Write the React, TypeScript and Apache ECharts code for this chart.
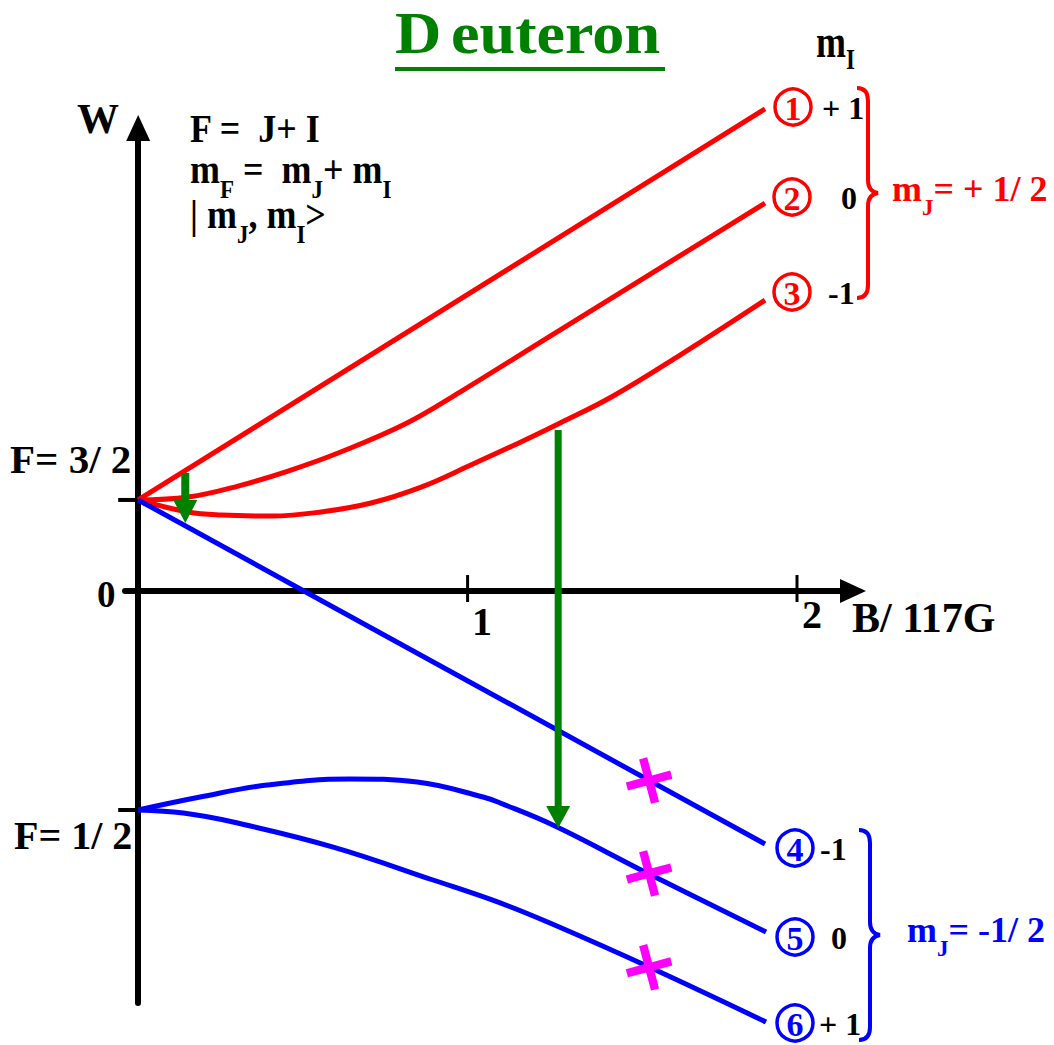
import React, { useEffect, useRef } from 'react';
import * as echarts from 'echarts';

const SERIF = "'Liberation Serif', 'Times New Roman', Times, serif";
const RED = '#ff0000';
const BLUE = '#0000ff';
const GREEN = '#008000';
const MAGENTA = '#ff00ff';
const BLACK = '#000000';

// Zeeman levels of the deuteron ground state.
// B in units of 117 G, W in arbitrary energy units.
const b1 = [0, 1.903];
const w1 = [0.99, 5.24];
const b2 = [0, 0.152, 0.303, 0.455, 0.607, 0.81, 0.977, 1.241, 1.545, 1.903];
const w2 = [0.99, 1.022, 1.141, 1.304, 1.5, 1.815, 2.163, 2.75, 3.424, 4.217];
const b3 = [0, 0.152, 0.252, 0.404, 0.555, 0.707, 0.859, 1.01, 1.162, 1.281, 1.442, 1.645, 1.903];
const w3 = [0.99, 0.859, 0.826, 0.815, 0.859, 0.957, 1.13, 1.37, 1.62, 1.826, 2.12, 2.565, 3.163];
const b4 = [0, 1.903];
const w4 = [0.99, -2.75];
const b5 = [0, 0.188, 0.392, 0.643, 0.847, 1.047, 1.099, 1.259, 1.545, 1.906];
const w5 = [-2.38, -2.239, -2.109, -2.043, -2.076, -2.239, -2.304, -2.543, -3.065, -3.707];
const b6 = [0, 0.137, 0.288, 0.592, 0.895, 1.099, 1.25, 1.551, 1.906];
const w6 = [-2.38, -2.413, -2.511, -2.783, -3.141, -3.39, -3.609, -4.087, -4.685];

const levelB = [b1, b2, b3, b4, b5, b6];
const levelW = [w1, w2, w3, w4, w5, w6];

// axis tick marks: B = 1, 2 and the zero-field levels F = 3/2, F = 1/2
const bTicks = [1, 2];
const wTicks = [0.99, -2.38];

// allowed transitions (green arrows): field, upper level, lower level
const transB = [0.143, 1.275];
const transFrom = [1.283, 1.75];
const transTo = [0.739, -2.576];

// forbidden transitions, crossed out
const crossB = [1.551, 1.551, 1.551];
const crossW = [-2.06, -3.07, -4.09];

// state numbers and their m_I values
const stateNumbers = ['1', '2', '3', '4', '5', '6'];
const mIValues = ['+ 1', '0', '-1', '-1', '0', '+ 1'];

// layout of the right-hand annotations
const circleX = [793, 792, 792, 795, 795, 795];
const circleY = [107, 197, 292, 848, 937, 1023];
const mIX = [822, 841, 828, 820, 831, 819];

const ARROW_SIZES = [
  { shaft: 8, head: 24, len: 23 },
  { shaft: 7, head: 24, len: 22 },
];

const BRACE_D =
  'M0,0 C7,0 11,4 11,13 L11,92 C11,100 14,104 21,105 C14,106 11,110 11,118 L11,197 C11,206 7,210 0,210';
echarts.graphic.registerShape('brace', echarts.graphic.extendPath(BRACE_D, {}));

const CROSS_PATH =
  'path://M-4,-22L4,-22L4,-4L22,-4L22,4L4,4L4,22L-4,22L-4,4L-22,4L-22,-4L-4,-4Z';

function richStyles(size: number, subSize: number, subPad: number, color: string) {
  const base = { fontSize: size, fontWeight: 'bold', fontFamily: SERIF, fill: color };
  return { b: base, s: { ...base, fontSize: subSize, padding: [subPad, 0, 0, 0] } };
}

function label(
  x: number,
  y: number,
  text: string,
  size: number,
  color: string,
  extra: { align?: string; scaleX?: number; scaleY?: number; rich?: any } = {}
) {
  const { align = 'left', scaleX = 1, scaleY = 1, rich } = extra;
  return {
    type: 'text',
    x,
    y,
    scaleX,
    scaleY,
    z: 50,
    silent: true,
    style: {
      text,
      x: 0,
      y: 0,
      fill: color,
      fontSize: size,
      fontWeight: 'bold',
      fontFamily: SERIF,
      align,
      verticalAlign: 'middle',
      textAlign: align,
      textVerticalAlign: 'middle',
      rich,
    },
  };
}

function buildGraphics() {
  const g: any[] = [];
  // title
  const titleTok = { fontSize: 60, fontWeight: 'bold', fontFamily: SERIF, fill: GREEN };
  g.push(
    label(395, 33, '{d|D}{e|euteron}', 60, GREEN, {
      scaleX: 1.07,
      rich: { d: { ...titleTok, padding: [0, 9, 0, 0] }, e: titleTok },
    })
  );
  g.push({ type: 'rect', shape: { x: 395, y: 67, width: 270, height: 4 }, style: { fill: GREEN }, z: 50 });

  // axis names
  g.push(label(77, 119, 'W', 42, BLACK));
  g.push(label(852, 618, 'B/ 117G', 42, BLACK));
  g.push(label(97, 594, '0', 37, BLACK));
  g.push(label(482, 621, '1', 40, BLACK, { align: 'center' }));
  g.push(label(812, 614, '2', 40, BLACK, { align: 'center' }));
  g.push(label(10, 459, 'F= 3/ 2', 41, BLACK));
  g.push(label(14, 835, 'F= 1/ 2', 40, BLACK));

  // quantum-number relations
  const fr = richStyles(36, 23, 34, BLACK);
  g.push(label(190, 128.5, '{b|F =  J+ I}', 36, BLACK, { scaleY: 1.12, rich: fr }));
  g.push(label(190, 169.5, '{b|m}{s|F}{b| =  m}{s|J}{b|+ m}{s|I}', 36, BLACK, { scaleY: 1.12, rich: fr }));
  g.push(label(190, 214.5, '{b|| m}{s|J}{b|, m}{s|I}{b|>}', 36, BLACK, { scaleY: 1.12, rich: fr }));

  // m_I column header
  g.push(label(816, 41, '{b|m}{s|I}', 36, BLACK, { scaleY: 1.3, rich: richStyles(36, 23, 28, BLACK) }));

  // state circles and m_I values
  stateNumbers.forEach((n, i) => {
    const color = i < 3 ? RED : BLUE;
    g.push({
      type: 'circle',
      shape: { cx: circleX[i], cy: circleY[i], r: 18 },
      style: { fill: 'none', stroke: color, lineWidth: 3.5 },
      z: 50,
    });
    g.push(label(circleX[i], circleY[i] + 1, n, 34, color, { align: 'center' }));
    g.push(label(mIX[i], circleY[i] + 1, mIValues[i], 32, BLACK));
  });

  // braces and m_J group labels
  g.push({ type: 'brace', x: 857, y: 88, style: { stroke: RED, fill: 'none', lineWidth: 4 }, z: 50 });
  g.push({ type: 'brace', x: 859, y: 830, style: { stroke: BLUE, fill: 'none', lineWidth: 4 }, z: 50 });
  g.push(label(892, 189, '{b|m}{s|J}{b|= + 1/ 2}', 36, RED, { rich: richStyles(36, 23, 36, RED) }));
  g.push(label(907, 930, '{b|m}{s|J}{b|= -1/ 2}', 36, BLUE, { rich: richStyles(36, 23, 36, BLUE) }));
  return g;
}

export default function App() {
  const ref = useRef<HTMLDivElement>(null);

  useEffect(() => {
    if (!ref.current) return;
    const chart = echarts.init(ref.current, null, { renderer: 'svg' });

    const levelSeries = levelB.map((bs, i) => ({
      type: 'line',
      data: bs.map((b, k) => [b, levelW[i][k]]),
      symbol: 'none',
      smooth: 0.4,
      clip: false,
      silent: true,
      z: 3,
      lineStyle: { color: i < 3 ? RED : BLUE, width: 5 },
    }));

    const option: any = {
      animation: false,
      backgroundColor: '#ffffff',
      grid: { left: 125, top: 128, width: 728, height: 875, containLabel: false, outerBoundsMode: 'none' },
      xAxis: {
        type: 'value',
        min: -0.04,
        max: 2.17,
        axisLine: {
          show: true,
          onZero: true,
          symbol: ['none', 'triangle'],
          symbolSize: [24, 26],
          lineStyle: { color: BLACK, width: 6 },
        },
        axisTick: { show: false },
        axisLabel: { show: false },
        splitLine: { show: false },
      },
      yAxis: {
        type: 'value',
        min: -4.478,
        max: 5.033,
        axisLine: {
          show: true,
          onZero: true,
          symbol: ['none', 'triangle'],
          symbolSize: [24, 26],
          lineStyle: { color: BLACK, width: 6 },
        },
        axisTick: { show: false },
        axisLabel: { show: false },
        splitLine: { show: false },
      },
      series: [
        ...levelSeries,
        {
          type: 'custom',
          silent: true,
          clip: false,
          z: 4,
          data: bTicks.map((b) => [b, 0]),
          renderItem: (_p: any, api: any) => {
            const p = api.coord([api.value(0), 0]);
            return {
              type: 'line',
              shape: { x1: p[0], y1: p[1] - 16, x2: p[0], y2: p[1] + 11 },
              style: { stroke: BLACK, lineWidth: 3 },
            };
          },
        },
        {
          type: 'custom',
          silent: true,
          clip: false,
          z: 1,
          data: wTicks.map((w) => [0, w]),
          renderItem: (_p: any, api: any) => {
            const p = api.coord([0, api.value(1)]);
            return {
              type: 'line',
              shape: { x1: p[0] - 20, y1: p[1], x2: p[0], y2: p[1] },
              style: { stroke: BLACK, lineWidth: 4 },
            };
          },
        },
        {
          type: 'custom',
          silent: true,
          clip: false,
          z: 6,
          data: transB.map((b, i) => [b, transFrom[i], transTo[i]]),
          renderItem: (params: any, api: any) => {
            const sz = ARROW_SIZES[params.dataIndex];
            const top = api.coord([api.value(0), api.value(1)]);
            const tip = api.coord([api.value(0), api.value(2)]);
            const headTop = tip[1] - sz.len;
            return {
              type: 'group',
              children: [
                {
                  type: 'rect',
                  shape: { x: top[0] - sz.shaft / 2, y: top[1], width: sz.shaft, height: headTop - top[1] + 1 },
                  style: { fill: GREEN },
                },
                {
                  type: 'polygon',
                  shape: {
                    points: [
                      [tip[0] - sz.head / 2, headTop],
                      [tip[0] + sz.head / 2, headTop],
                      [tip[0], tip[1]],
                    ],
                  },
                  style: { fill: GREEN },
                },
              ],
            };
          },
        },
        {
          type: 'scatter',
          silent: true,
          z: 7,
          symbol: CROSS_PATH,
          symbolSize: 46,
          symbolRotate: 15,
          itemStyle: { color: MAGENTA, opacity: 1 },
          data: crossB.map((b, i) => [b, crossW[i]]),
        },
      ],
      graphic: buildGraphics(),
    };

    chart.setOption(option);
    return () => chart.dispose();
  }, []);

  return (
    <div
      ref={ref}
      style={{ position: 'absolute', left: 0, top: 0, width: 1054, height: 1045, background: '#fff' }}
    />
  );
}
